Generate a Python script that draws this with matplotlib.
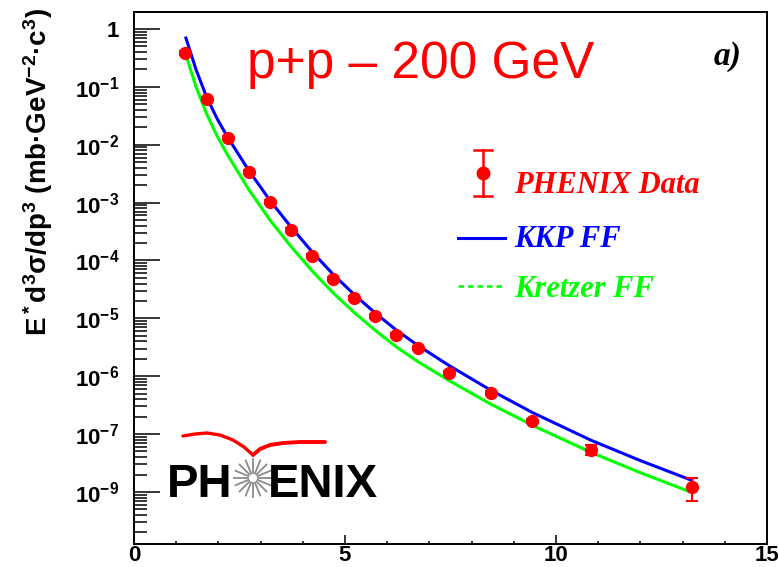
import numpy as np
import matplotlib
matplotlib.use('Agg')
import matplotlib.pyplot as plt
from matplotlib.ticker import FixedLocator, LogLocator, NullFormatter, MultipleLocator

# fonts: bold sans everywhere, like the ROOT original
plt.rcParams['font.family'] = ['Liberation Sans', 'DejaVu Sans']
plt.rcParams['font.weight'] = 'bold'
plt.rcParams['mathtext.fontset'] = 'custom'
plt.rcParams['mathtext.rm'] = 'Liberation Sans:bold'
plt.rcParams['mathtext.it'] = 'Liberation Sans:bold'
plt.rcParams['mathtext.bf'] = 'Liberation Sans:bold'

# PHENIX data points
pt = [1.22, 1.72, 2.22, 2.72, 3.22, 3.72, 4.22, 4.71, 5.22, 5.72,
      6.22, 6.72, 7.46, 8.45, 9.44, 10.83, 13.22]
xsec = [0.385, 0.0618, 0.0131, 3.39e-3, 1.03e-3, 3.37e-4, 1.2e-4, 4.8e-5, 2.26e-5, 1.10e-5,
        5.19e-6, 3.09e-6, 1.15e-6, 5.17e-7, 1.70e-7, 5.36e-8, 1.23e-8]
err = [0.03, 5e-3, 1e-3, 2.7e-4, 8e-5, 2.6e-5, 9e-6, 3.6e-6, 1.7e-6, 8.5e-7,
       4e-7, 2.4e-7, 9e-8, 4e-8, 1.5e-8, 1.0e-8, 0.52e-8]

# KKP FF curve
kkp_pt = [1.23, 1.47, 1.72, 1.97, 2.22, 2.72, 3.22, 3.72, 4.22, 4.72, 5.22, 5.72,
          6.22, 6.72, 7.46, 8.45, 9.45, 10.84, 12.0, 13.22]
kkp = [0.700, 0.1995, 0.0668, 0.0282, 0.01349, 3.59e-3, 1.096e-3, 3.80e-4, 1.413e-4, 5.75e-5,
       2.57e-5, 1.23e-5, 6.24e-6, 3.43e-6, 1.54e-6, 5.75e-7, 2.34e-7, 7.76e-8, 3.48e-8, 1.585e-8]

# Kretzer FF curve
kre_pt = [1.24, 1.47, 1.72, 1.97, 2.22, 2.72, 3.22, 3.72, 4.22, 4.72, 5.22, 5.72,
          6.22, 6.72, 7.46, 8.45, 9.45, 10.84, 12.0, 13.22]
kre = [0.339, 0.100, 0.0343, 0.0141, 6.61e-3, 1.68e-3, 5.01e-4, 1.74e-4, 6.61e-5, 2.75e-5,
       1.26e-5, 6.17e-6, 3.20e-6, 1.80e-6, 8.45e-7, 3.31e-7, 1.41e-7, 4.79e-8, 2.15e-8, 9.77e-9]

decades = [1e-8, 1e-7, 1e-6, 1e-5, 1e-4, 1e-3, 1e-2, 1e-1, 1]
decade_labels = ['$10^{-9}$', '$10^{-7}$', '$10^{-6}$', '$10^{-5}$', '$10^{-4}$',
                 '$10^{-3}$', '$10^{-2}$', '$10^{-1}$', '1']

W, H = 778, 567
fig = plt.figure(figsize=(W / 100, H / 100), dpi=100)
ax = fig.add_axes([134 / W, 1 - 544 / H, (767 - 134) / W, (544 - 12) / H])

ax.plot(kre_pt, kre, color='#00ff00', lw=2.2, zorder=2)
ax.plot(kkp_pt, kkp, color='#0000ff', lw=2.2, zorder=3)
ax.errorbar(pt, xsec, yerr=err, fmt='o', color='#ff0000', ms=8.5, capsize=4,
            elinewidth=1.5, capthick=1.5, zorder=5)

ax.set_yscale('log')
ax.set_xlim(0, 15)
ax.set_ylim(1.26e-9, 1.97)

ax.yaxis.set_major_locator(FixedLocator(decades))
ax.set_yticklabels(decade_labels)
ax.yaxis.set_minor_locator(LogLocator(base=10, subs=np.arange(2, 10), numticks=30))
ax.yaxis.set_minor_formatter(NullFormatter())
ax.xaxis.set_major_locator(FixedLocator([0, 5, 10, 15]))
ax.xaxis.set_minor_locator(MultipleLocator(1))

ax.tick_params(axis='y', which='major', direction='in', length=19, width=1.1, labelsize=16, pad=10.5)
ax.tick_params(axis='y', which='minor', direction='in', length=9.5, width=1.1)
ax.tick_params(axis='x', which='major', direction='in', length=6.5, width=1.1, labelsize=16, pad=0.5)
ax.tick_params(axis='x', which='minor', direction='in', length=2.5, width=1.1)
for lab in ax.get_yticklabels():
    lab.set_verticalalignment('center_baseline')
for sp in ax.spines.values():
    sp.set_linewidth(1.4)

# y label
fig.text(38 / W, 1 - 172 / H, 'E$^*$d$^3$σ/dp$^3$ (mb·GeV$^{-2}$·c$^3$)',
         rotation=90, ha='center', va='center', fontsize=20)

# title and panel tag
ax.text(0.178, 0.876, 'p+p – 200 GeV', transform=ax.transAxes, color='#ff0000',
        fontsize=37, fontweight='normal', va='baseline', ha='left')
ax.text(0.937, 0.9, 'a)', transform=ax.transAxes, family='Liberation Serif',
        style='italic', weight='bold', fontsize=24, va='baseline', ha='center')

# legend drawn by hand
leg_font = dict(family='Liberation Serif', style='italic', weight='bold', fontsize=22,
                transform=ax.transAxes, va='baseline', ha='left')
ax.plot([0.5513, 0.5513], [0.6541, 0.7406], color='#ff0000', lw=1.8, transform=ax.transAxes)
ax.plot([0.5378, 0.5648], [0.7406, 0.7406], color='#ff0000', lw=1.8, transform=ax.transAxes)
ax.plot([0.5378, 0.5648], [0.6541, 0.6541], color='#ff0000', lw=1.8, transform=ax.transAxes)
ax.plot([0.5513], [0.6974], 'o', color='#ff0000', ms=9, transform=ax.transAxes)
ax.text(0.601, 0.6598, 'PHENIX Data', color='#ff0000', **leg_font)
ax.plot([0.512, 0.586], [0.5752, 0.5752], color='#0000ff', lw=2.2, transform=ax.transAxes)
ax.text(0.601, 0.558, 'KKP FF', color='#0000ff', **leg_font)
ax.plot([0.512, 0.583], [0.4849, 0.4849], color='#00ff00', lw=1.8, ls=(0, (2.2, 1.6)),
        transform=ax.transAxes)
ax.text(0.601, 0.464, 'Kretzer FF', color='#00ff00', **leg_font)

# PHENIX logo
lg = fig.add_axes([160 / W, 1 - 505 / H, 230 / W, 80 / H])
lg.set_xlim(160, 390)
lg.set_ylim(505, 425)
lg.axis('off')
lg.text(167, 497, 'PH', fontsize=34, weight='bold', color='black', va='baseline', ha='left')
lg.text(268, 497, 'ENIX', fontsize=34, weight='bold', color='black', va='baseline', ha='left')
for ang in np.arange(0, 360, 22.5):
    a = np.radians(ang)
    lg.plot([253 + 5 * np.cos(a), 253 + 19 * np.cos(a)],
            [478 + 5 * np.sin(a), 478 + 19 * np.sin(a)], color='#8a8a8a', lw=1.3)
lg.plot([183, 195, 207, 220, 233, 244, 253], [436, 434, 433, 435, 440, 447, 455],
        color='#ff0000', lw=2.4, solid_capstyle='round')
lg.plot([253, 260, 270, 283, 300, 325], [455, 449, 445, 443, 442, 442],
        color='#ff0000', lw=2.8, solid_capstyle='round')

fig.savefig('out.png', dpi=100)
